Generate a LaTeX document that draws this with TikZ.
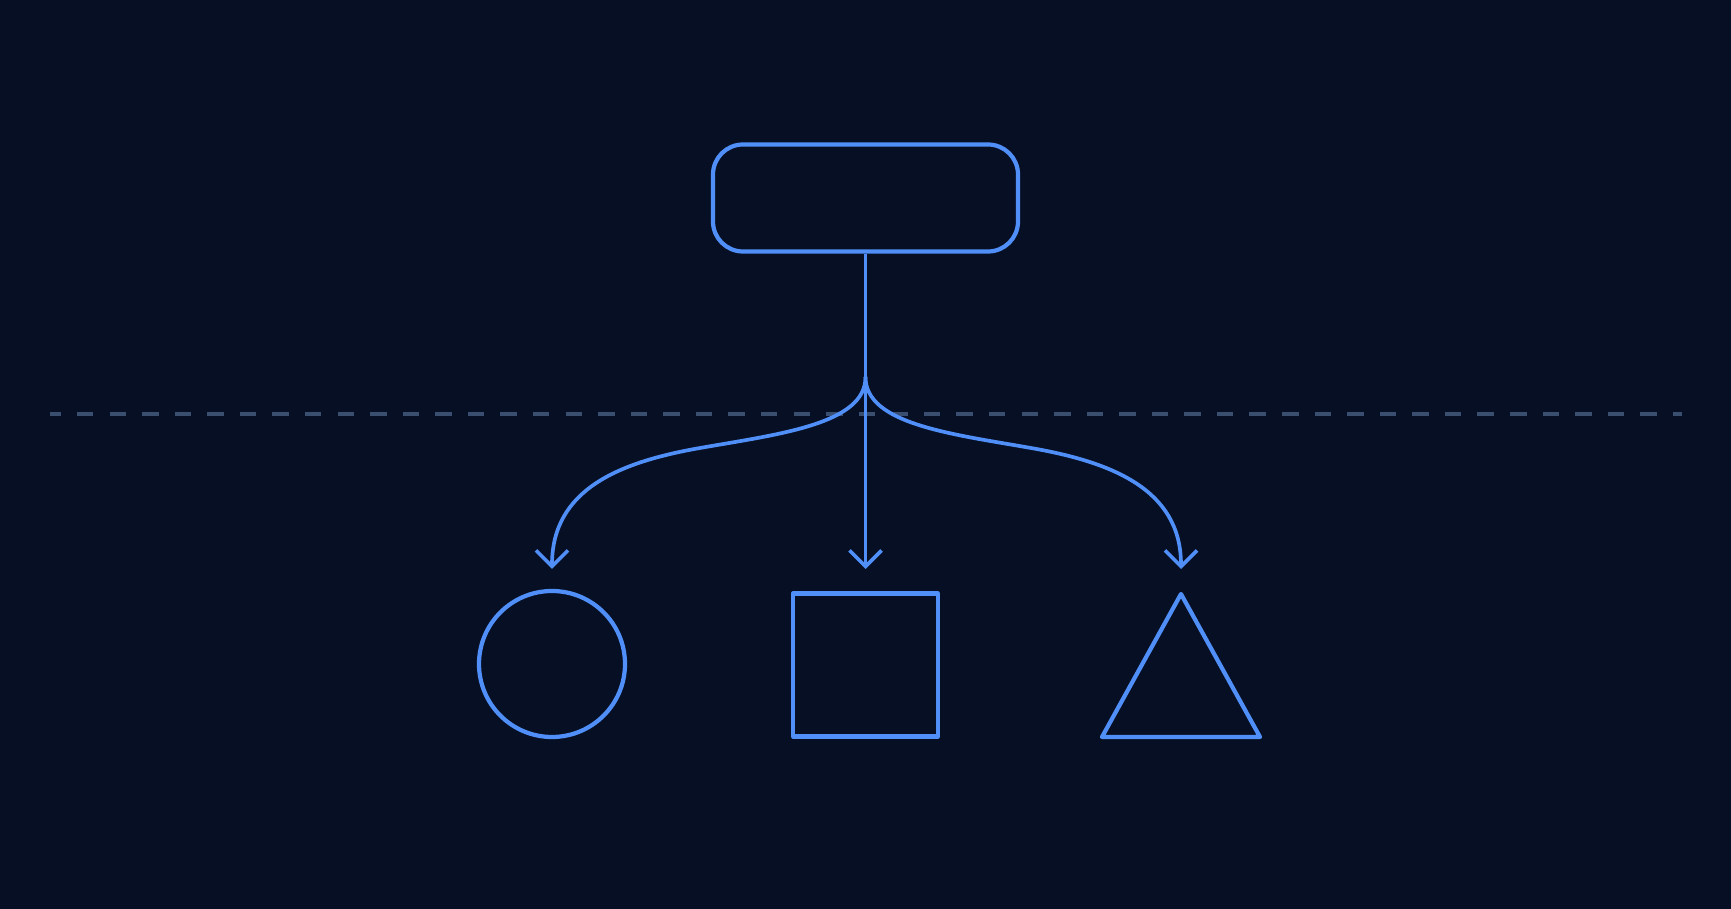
\documentclass[tikz,border=0pt]{standalone}
\usepackage{tikz}
\usetikzlibrary{arrows.meta}
\definecolor{bgnavy}{RGB}{7,15,36}
\definecolor{lineblue}{RGB}{79,143,247}
\definecolor{guidegray}{RGB}{58,78,112}
\tikzset{
    outline/.style={draw=lineblue, line width=1.2pt, line join=round},
    topbox/.style={outline, rectangle, rounded corners=0.3cm, minimum width=3.05cm, minimum height=1.07cm},
    link/.style={draw=lineblue, line width=1.05pt, line cap=round, -{Straight Barb[length=0.16cm, width=0.32cm, line width=1.05pt]}},
    guide/.style={draw=guidegray, line width=0.9pt, dash pattern=on 0.165cm off 0.1607cm, dash phase=0.056cm}
}
\begin{document}
\begin{tikzpicture}
  \fill[bgnavy] (0,0) rectangle (17.31,9.09);
  \useasboundingbox (0,0) rectangle (17.31,9.09);

  % dashed divider
  \draw[guide] (0.5,4.95) -- (16.82,4.95);

  \node [topbox] (top) at (8.655,7.11) {};
  \node [outline, circle, minimum size=1.46cm, inner sep=0pt] (circ) at (5.52,2.45) {};
  \node [outline, rectangle, minimum width=1.45cm, minimum height=1.43cm, inner sep=0pt] (sq) at (8.655,2.44) {};
  \coordinate (tri) at (11.81,3.15);
  \draw [outline] (tri) -- (11.02,1.72) -- (12.60,1.72) -- cycle;

  % arrow ends, just above each shape
  \coordinate (split) at (8.655,5.32);
  \coordinate (tipL) at (5.52,3.40);
  \coordinate (tipM) at (8.655,3.40);
  \coordinate (tipR) at (11.81,3.40);

  \draw [draw=lineblue, line width=1.05pt] (top.south) -- (split);
  \draw [link] (split) -- (tipM);
  \draw [link] (split) .. controls (8.655,4.85) and (7.8,4.75) .. (7.0,4.61)
      .. controls (6.2,4.47) and (5.52,4.2) .. (tipL);
  \draw [link] (split) .. controls (8.655,4.85) and (9.51,4.75) .. (10.31,4.61)
      .. controls (11.11,4.47) and (11.81,4.2) .. (tipR);
\end{tikzpicture}
\end{document}
